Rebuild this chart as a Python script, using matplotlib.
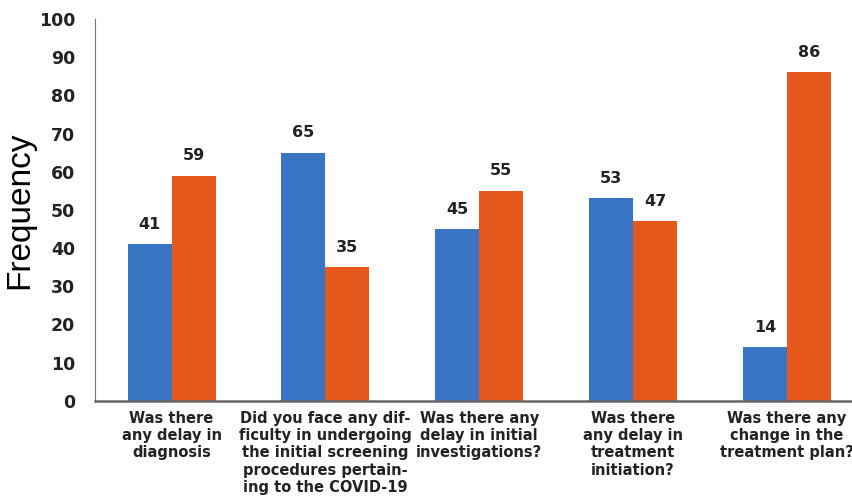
import matplotlib.pyplot as plt
import numpy as np

plt.rcParams['font.family'] = ['Liberation Sans', 'DejaVu Sans']

questions = [
    "Was there\nany delay in\ndiagnosis",
    "Did you face any dif-\nficulty in undergoing\nthe initial screening\nprocedures pertain-\ning to the COVID-19",
    "Was there any\ndelay in initial\ninvestigations?",
    "Was there\nany delay in\ntreatment\ninitiation?",
    "Was there any\nchange in the\ntreatment plan?",
]
yes_vals = [41, 65, 45, 53, 14]
no_vals = [59, 35, 55, 47, 86]

blue = '#3a75c4'
orange = '#e5581c'
heavy = 'DejaVu Sans'

fig = plt.figure(figsize=(8.53, 5.01), dpi=100)
ax = fig.add_axes([0.111, 0.2, 0.889, 0.762])

x = np.arange(len(questions))
w = 0.286
b1 = ax.bar(x - w / 2, yes_vals, w, color=blue)
b2 = ax.bar(x + w / 2, no_vals, w, color=orange)

for bars in (b1, b2):
    for rect in bars:
        ax.annotate(f"{rect.get_height():.0f}",
                    (rect.get_x() + rect.get_width() / 2, rect.get_height()),
                    xytext=(0, 9), textcoords='offset points',
                    ha='center', va='bottom', fontsize=11.5, fontweight='bold',
                    family=heavy, color='#222222')

ax.set_xlim(-0.5, 4.43)
ax.set_ylim(0, 100)
ax.set_yticks(range(0, 101, 10))
ax.set_xticks(x)
ax.set_xticklabels(questions, fontsize=10.5, fontweight='bold', color='#222222',
                   family=heavy, linespacing=1.2)
for lab in ax.get_yticklabels():
    lab.set_fontweight('bold')
    lab.set_fontsize(12.5)
    lab.set_family(heavy)
    lab.set_color('#222222')
ax.tick_params(length=0)
ax.tick_params(axis='y', pad=14)
ax.tick_params(axis='x', pad=7)

ax.set_ylabel("Frequency", fontsize=24)
ax.yaxis.set_label_coords(-0.079, 0.5)

ax.spines['top'].set_visible(False)
ax.spines['right'].set_visible(False)
ax.spines['left'].set_color('#777777')
ax.spines['bottom'].set_color('#666666')
ax.spines['bottom'].set_linewidth(1.8)

fig.savefig('out.png', dpi=100)
